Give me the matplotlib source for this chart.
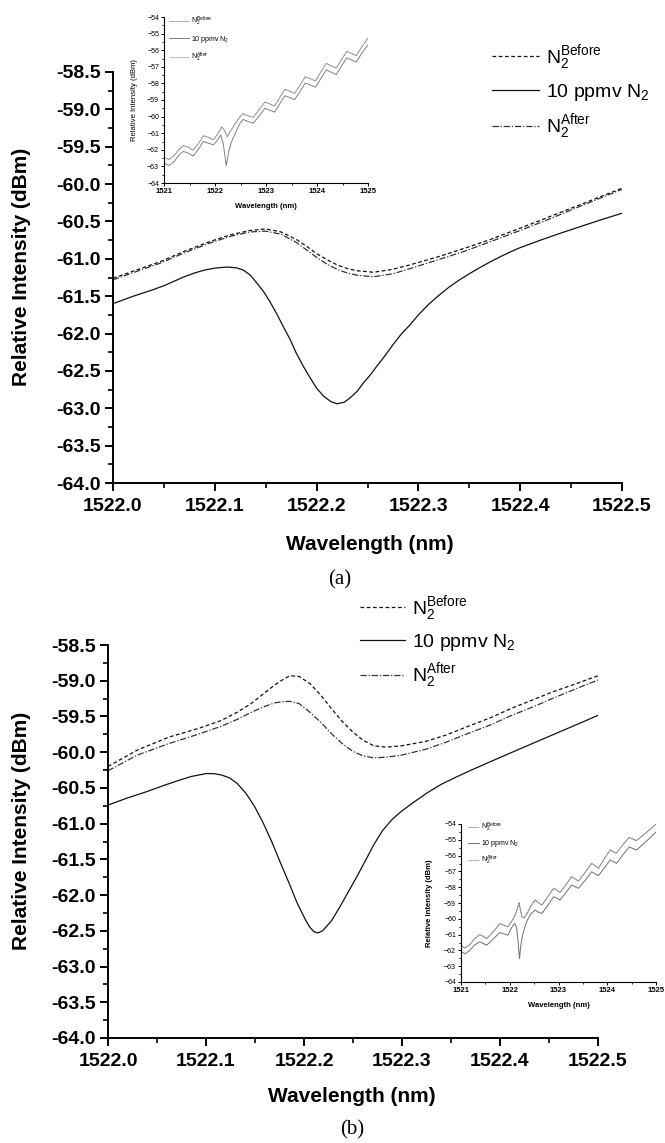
import matplotlib
matplotlib.use("Agg")
import matplotlib.pyplot as plt
from matplotlib.ticker import MultipleLocator, FormatStrFormatter

plt.rcParams['font.family'] = ['Liberation Sans', 'DejaVu Sans']
plt.rcParams['mathtext.fontset'] = 'custom'
plt.rcParams['mathtext.rm'] = 'Liberation Sans'
plt.rcParams['mathtext.it'] = 'Liberation Sans:italic'
plt.rcParams['mathtext.bf'] = 'Liberation Sans:bold'

LBL_BEFORE = r'N$_2^{\mathrm{Before}}$'
LBL_N2 = r'10 ppmv N$_2$'
LBL_AFTER = r'N$_2^{\mathrm{After}}$'

# ============== panel (a), zoomed spectra ==============
a_wl_solid = [1522.000, 1522.010, 1522.020, 1522.030, 1522.040, 1522.050, 1522.060, 1522.070,
              1522.080, 1522.090, 1522.100, 1522.112, 1522.121, 1522.128, 1522.135, 1522.141,
              1522.148, 1522.154, 1522.161, 1522.167, 1522.174, 1522.180, 1522.187, 1522.194,
              1522.200, 1522.207, 1522.214, 1522.220, 1522.227, 1522.233, 1522.240, 1522.246,
              1522.253, 1522.259, 1522.267, 1522.275, 1522.283, 1522.292, 1522.300, 1522.310,
              1522.320, 1522.330, 1522.340, 1522.350, 1522.360, 1522.370, 1522.380, 1522.390,
              1522.400, 1522.421, 1522.440, 1522.460, 1522.480, 1522.500]
a_solid = [-61.60, -61.55, -61.50, -61.455, -61.41, -61.36, -61.30, -61.24,
           -61.19, -61.15, -61.125, -61.11, -61.12, -61.15, -61.22, -61.32,
           -61.44, -61.57, -61.74, -61.90, -62.08, -62.26, -62.44, -62.60,
           -62.73, -62.84, -62.91, -62.94, -62.92, -62.86, -62.77, -62.66,
           -62.55, -62.44, -62.30, -62.15, -62.01, -61.88, -61.75, -61.61,
           -61.49, -61.38, -61.285, -61.20, -61.12, -61.045, -60.975, -60.91,
           -60.85, -60.745, -60.655, -60.565, -60.475, -60.39]

a_wl_dash = [1522.000, 1522.023, 1522.046, 1522.070, 1522.095, 1522.115, 1522.135, 1522.150,
             1522.165, 1522.180, 1522.190, 1522.200, 1522.210, 1522.220, 1522.230, 1522.240,
             1522.256, 1522.275, 1522.292, 1522.320, 1522.345, 1522.369, 1522.400, 1522.430,
             1522.460, 1522.500]
a_before = [-61.26, -61.15, -61.04, -60.90, -60.77, -60.68, -60.62, -60.60,
            -60.64, -60.74, -60.83, -60.93, -61.01, -61.08, -61.13, -61.16,
            -61.18, -61.14, -61.08, -60.97, -60.86, -60.75, -60.59, -60.43,
            -60.27, -60.055]
a_after = [-61.28, -61.17, -61.06, -60.92, -60.79, -60.70, -60.64, -60.63,
           -60.67, -60.78, -60.88, -60.98, -61.07, -61.14, -61.19, -61.22,
           -61.24, -61.20, -61.13, -61.01, -60.90, -60.78, -60.62, -60.46,
           -60.29, -60.07]

# ============== panel (a), inset (full scan) ==============
ia_wl_up = [1521.00, 1521.10, 1521.20, 1521.30, 1521.38, 1521.48, 1521.57, 1521.67, 1521.77,
            1521.87, 1521.97, 1522.05, 1522.13, 1522.19, 1522.24, 1522.30, 1522.40, 1522.48,
            1522.55, 1522.65, 1522.75, 1522.86, 1522.98, 1523.08, 1523.17, 1523.27, 1523.37,
            1523.47, 1523.56, 1523.67, 1523.77, 1523.87, 1523.97, 1524.08, 1524.18, 1524.28,
            1524.38, 1524.48, 1524.58, 1524.68, 1524.77, 1524.88, 1525.00]
ia_up = [-62.45, -62.58, -62.35, -61.95, -61.75, -61.85, -62.02, -61.65, -61.15,
         -61.25, -61.40, -61.05, -60.62, -60.85, -61.22, -60.90, -60.40, -60.05,
         -59.82, -59.95, -60.05, -59.60, -59.12, -59.25, -59.36, -58.85, -58.36,
         -58.48, -58.60, -58.10, -57.60, -57.72, -57.85, -57.30, -56.80, -56.95,
         -57.08, -56.58, -56.08, -56.20, -56.33, -55.80, -55.27]
ia_wl_low = [1521.00, 1521.10, 1521.20, 1521.30, 1521.38, 1521.48, 1521.57, 1521.67, 1521.77,
             1521.87, 1521.97, 1522.05, 1522.11, 1522.16, 1522.22, 1522.27, 1522.32, 1522.40,
             1522.48, 1522.55, 1522.65, 1522.75, 1522.86, 1522.98, 1523.08, 1523.17, 1523.27,
             1523.37, 1523.47, 1523.56, 1523.67, 1523.77, 1523.87, 1523.97, 1524.08, 1524.18,
             1524.28, 1524.38, 1524.48, 1524.58, 1524.68, 1524.77, 1524.88, 1525.00]
ia_low = [-62.80, -62.95, -62.70, -62.30, -62.10, -62.20, -62.37, -62.00, -61.50,
          -61.60, -61.70, -61.40, -61.11, -61.60, -62.95, -62.10, -61.55, -60.98,
          -60.45, -60.17, -60.30, -60.40, -59.98, -59.50, -59.62, -59.73, -59.23,
          -58.74, -58.86, -58.98, -58.48, -57.98, -58.10, -58.23, -57.68, -57.18,
          -57.33, -57.46, -56.96, -56.46, -56.58, -56.71, -56.18, -55.67]

# ============== panel (b), zoomed spectra ==============
b_wl_dash = [1522.000, 1522.030, 1522.062, 1522.094, 1522.115, 1522.132, 1522.145, 1522.158,
             1522.170, 1522.180, 1522.186, 1522.195, 1522.206, 1522.217, 1522.228, 1522.239,
             1522.250, 1522.260, 1522.271, 1522.284, 1522.300, 1522.324, 1522.345, 1522.367,
             1522.390, 1522.411, 1522.433, 1522.455, 1522.478, 1522.500]
b_before = [-60.20, -59.97, -59.79, -59.66, -59.56, -59.44, -59.33, -59.19,
            -59.06, -58.97, -58.93, -58.94, -59.04, -59.20, -59.39, -59.57,
            -59.72, -59.83, -59.91, -59.93, -59.91, -59.85, -59.76, -59.64,
            -59.52, -59.39, -59.27, -59.15, -59.04, -58.93]
b_after = [-60.26, -60.04, -59.88, -59.74, -59.64, -59.54, -59.45, -59.37,
           -59.31, -59.29, -59.29, -59.32, -59.44, -59.58, -59.74, -59.88,
           -59.99, -60.05, -60.08, -60.07, -60.04, -59.96, -59.86, -59.74,
           -59.62, -59.49, -59.37, -59.24, -59.11, -58.99]
b_wl_solid = [1522.000, 1522.020, 1522.040, 1522.056, 1522.071, 1522.085, 1522.100, 1522.108,
              1522.116, 1522.124, 1522.132, 1522.141, 1522.150, 1522.158, 1522.167, 1522.176,
              1522.185, 1522.193, 1522.202, 1522.206, 1522.210, 1522.214, 1522.219, 1522.228,
              1522.236, 1522.245, 1522.254, 1522.263, 1522.271, 1522.280, 1522.290, 1522.300,
              1522.312, 1522.325, 1522.340, 1522.355, 1522.370, 1522.389, 1522.410, 1522.432,
              1522.455, 1522.478, 1522.500]
b_solid = [-60.74, -60.64, -60.55, -60.47, -60.40, -60.34, -60.30, -60.30,
           -60.32, -60.36, -60.44, -60.58, -60.77, -60.98, -61.25, -61.55,
           -61.84, -62.11, -62.36, -62.45, -62.51, -62.53, -62.50, -62.36,
           -62.18, -61.96, -61.74, -61.51, -61.30, -61.10, -60.94, -60.82,
           -60.70, -60.575, -60.45, -60.35, -60.255, -60.14, -60.015, -59.885,
           -59.75, -59.615, -59.485]

# ============== panel (b), inset (full scan) ==============
ib_wl_up = [1521.00, 1521.08, 1521.18, 1521.28, 1521.38, 1521.46, 1521.53, 1521.65, 1521.80,
            1521.88, 1521.96, 1522.04, 1522.10, 1522.15, 1522.19, 1522.22, 1522.25, 1522.29,
            1522.35, 1522.43, 1522.52, 1522.59, 1522.66, 1522.78, 1522.90, 1522.97, 1523.03,
            1523.15, 1523.27, 1523.34, 1523.41, 1523.55, 1523.68, 1523.75, 1523.82, 1523.94,
            1524.06, 1524.12, 1524.19, 1524.32, 1524.45, 1524.52, 1524.60, 1524.80, 1525.00]
ib_up = [-61.67, -61.85, -61.65, -61.25, -61.00, -61.12, -61.25, -60.85, -60.30,
         -60.40, -60.51, -60.15, -59.85, -59.40, -58.98, -59.45, -59.90, -59.95,
         -59.70, -59.20, -58.81, -58.98, -59.13, -58.60, -58.07, -58.20, -58.33,
         -57.85, -57.33, -57.48, -57.61, -57.05, -56.49, -56.65, -56.80, -56.20,
         -55.64, -55.75, -55.85, -55.30, -54.85, -54.95, -55.05, -54.55, -54.00]
ib_wl_low = [1521.00, 1521.08, 1521.18, 1521.28, 1521.38, 1521.46, 1521.53, 1521.65, 1521.80,
             1521.88, 1521.96, 1522.04, 1522.10, 1522.14, 1522.17, 1522.20, 1522.23, 1522.27,
             1522.35, 1522.43, 1522.52, 1522.59, 1522.66, 1522.78, 1522.90, 1522.97, 1523.03,
             1523.15, 1523.27, 1523.34, 1523.41, 1523.55, 1523.68, 1523.75, 1523.82, 1523.94,
             1524.06, 1524.12, 1524.19, 1524.32, 1524.45, 1524.52, 1524.60, 1524.80, 1525.00]
ib_low = [-62.05, -62.22, -62.00, -61.65, -61.46, -61.57, -61.67, -61.30, -60.87,
          -60.95, -61.04, -60.55, -60.30, -60.55, -61.40, -62.52, -61.60, -60.93,
          -60.15, -59.70, -59.45, -59.58, -59.66, -59.15, -58.60, -58.70, -58.81,
          -58.35, -57.86, -57.97, -58.07, -57.55, -57.02, -57.15, -57.27, -56.78,
          -56.28, -56.38, -56.49, -55.95, -55.45, -55.55, -55.65, -55.10, -54.50]

W, H = 665, 1143
DASH = (0, (3, 2))
DASHDOT = (0, (5, 1.5, 1, 1.5))
DOTS = (0, (1, 0.6))


def px_axes(fig, left, top, right, bottom):
	return fig.add_axes([left / W, 1 - bottom / H, (right - left) / W, (bottom - top) / H])


def style_main(ax, ylab, xlab):
	ax.set_xlim(1522.0, 1522.5)
	ax.set_ylim(-64.0, -58.5)
	ax.spines['top'].set_visible(False)
	ax.spines['right'].set_visible(False)
	for s in ('left', 'bottom'):
		ax.spines[s].set_linewidth(1.4)
	ax.xaxis.set_major_locator(MultipleLocator(0.1))
	ax.xaxis.set_minor_locator(MultipleLocator(0.05))
	ax.yaxis.set_major_locator(MultipleLocator(0.5))
	ax.yaxis.set_minor_locator(MultipleLocator(0.25))
	ax.xaxis.set_major_formatter(FormatStrFormatter('%.1f'))
	ax.yaxis.set_major_formatter(FormatStrFormatter('%.1f'))
	ax.tick_params(which='major', direction='out', length=6, width=1.4, labelsize=14)
	ax.tick_params(which='minor', direction='out', length=3.5, width=1.2)
	ax.tick_params(axis='x', which='major', pad=5)
	ax.tick_params(axis='y', which='major', pad=3)
	for t in ax.get_xticklabels() + ax.get_yticklabels():
		t.set_fontweight('bold')
	ax.set_xlabel("Wavelength (nm)", fontsize=15, fontweight='bold')
	ax.set_ylabel("Relative Intensity (dBm)", fontsize=15, fontweight='bold')
	ax.yaxis.set_label_coords(*ylab)
	ax.xaxis.set_label_coords(*xlab)


def style_inset(ax, ylab, xlab, ybold):
	ax.set_xlim(1521, 1525)
	ax.set_ylim(-64, -54)
	ax.spines['top'].set_visible(False)
	ax.spines['right'].set_visible(False)
	for s in ('left', 'bottom'):
		ax.spines[s].set_linewidth(0.8)
	ax.xaxis.set_major_locator(MultipleLocator(1))
	ax.xaxis.set_minor_locator(MultipleLocator(0.5))
	ax.yaxis.set_major_locator(MultipleLocator(1))
	ax.yaxis.set_minor_locator(MultipleLocator(0.5))
	ax.tick_params(which='major', direction='out', length=2, width=0.7, pad=1.5)
	ax.tick_params(which='minor', direction='out', length=1.2, width=0.6)
	ax.tick_params(axis='x', labelsize=5.5)
	ax.tick_params(axis='y', labelsize=5)
	for t in ax.get_xticklabels():
		t.set_fontweight('bold')
	ax.set_xlabel("Wavelength (nm)", fontsize=5.5, fontweight='bold')
	ax.set_ylabel("Relative Intensity (dBm)", fontsize=5.5,
				  fontweight='bold' if ybold else 'normal')
	ax.yaxis.set_label_coords(*ylab)
	ax.xaxis.set_label_coords(*xlab)


fig = plt.figure(figsize=(W / 100, H / 100), dpi=100)

# ---- (a) ----
axA = px_axes(fig, 113, 72, 622, 483)
axA.plot(a_wl_dash, a_before, color='#111111', lw=0.9, ls=DASH, label=LBL_BEFORE)
axA.plot(a_wl_solid, a_solid, color='#111111', lw=0.9, label=LBL_N2)
axA.plot(a_wl_dash, a_after, color='#333333', lw=0.9, ls=DASHDOT, label=LBL_AFTER)
style_main(axA, (-0.161, 0.525), (0.505, -0.127))
axA.legend(loc='upper left', bbox_to_anchor=(492 / W, 1 - 43 / H), bbox_transform=fig.transFigure,
		   frameon=False, fontsize=14, handlelength=2.4, handletextpad=0.4,
		   borderpad=0, borderaxespad=0, labelspacing=0.5)

insA = px_axes(fig, 164, 17, 368, 183)
insA.plot(ia_wl_up, ia_up, color='#808080', lw=0.7, ls=DOTS, label=LBL_BEFORE)
insA.plot(ia_wl_low, ia_low, color='#808080', lw=0.7, label=LBL_N2)
insA.plot(ia_wl_up, ia_up, color='#8c8c8c', lw=0.6, ls=DOTS, label=LBL_AFTER)
style_inset(insA, (-0.127, 0.5), (0.5, -0.12), False)
insA.legend(loc='upper left', bbox_to_anchor=(169 / W, 1 - 15 / H), bbox_transform=fig.transFigure,
			frameon=False, fontsize=5, handlelength=2.9, handletextpad=0.3,
			borderpad=0, borderaxespad=0, labelspacing=0.8)

fig.text(340 / W, 1 - 580 / H, "(a)", ha='center', va='center', fontsize=15,
		 family=['Liberation Serif', 'DejaVu Serif'])

# ---- (b) ----
axB = px_axes(fig, 108, 645, 598, 1038)
axB.plot(b_wl_dash, b_before, color='#111111', lw=0.9, ls=DASH, label=LBL_BEFORE)
axB.plot(b_wl_solid, b_solid, color='#111111', lw=0.9, label=LBL_N2)
axB.plot(b_wl_dash, b_after, color='#333333', lw=0.9, ls=DASHDOT, label=LBL_AFTER)
style_main(axB, (-0.157, 0.527), (0.498, -0.125))
axB.legend(loc='upper left', bbox_to_anchor=(360 / W, 1 - 594 / H), bbox_transform=fig.transFigure,
		   frameon=False, fontsize=14, handlelength=2.3, handletextpad=0.4,
		   borderpad=0, borderaxespad=0, labelspacing=0.45)

insB = px_axes(fig, 461, 824, 656, 982)
insB.plot(ib_wl_up, ib_up, color='#707070', lw=0.7, ls=DOTS, label=LBL_BEFORE)
insB.plot(ib_wl_low, ib_low, color='#707070', lw=0.7, label=LBL_N2)
insB.plot(ib_wl_up, ib_up, color='#7c7c7c', lw=0.6, ls=DOTS, label=LBL_AFTER)
style_inset(insB, (-0.144, 0.5), (0.5, -0.127), True)
insB.legend(loc='upper left', bbox_to_anchor=(468 / W, 1 - 821 / H), bbox_transform=fig.transFigure,
			frameon=False, fontsize=5, handlelength=1.6, handletextpad=0.3,
			borderpad=0, borderaxespad=0, labelspacing=0.6)

fig.text(352 / W, 1 - 1130 / H, "(b)", ha='center', va='center', fontsize=15,
		 family=['Liberation Serif', 'DejaVu Serif'])

plt.savefig("out.png", dpi=100)
plt.close()
